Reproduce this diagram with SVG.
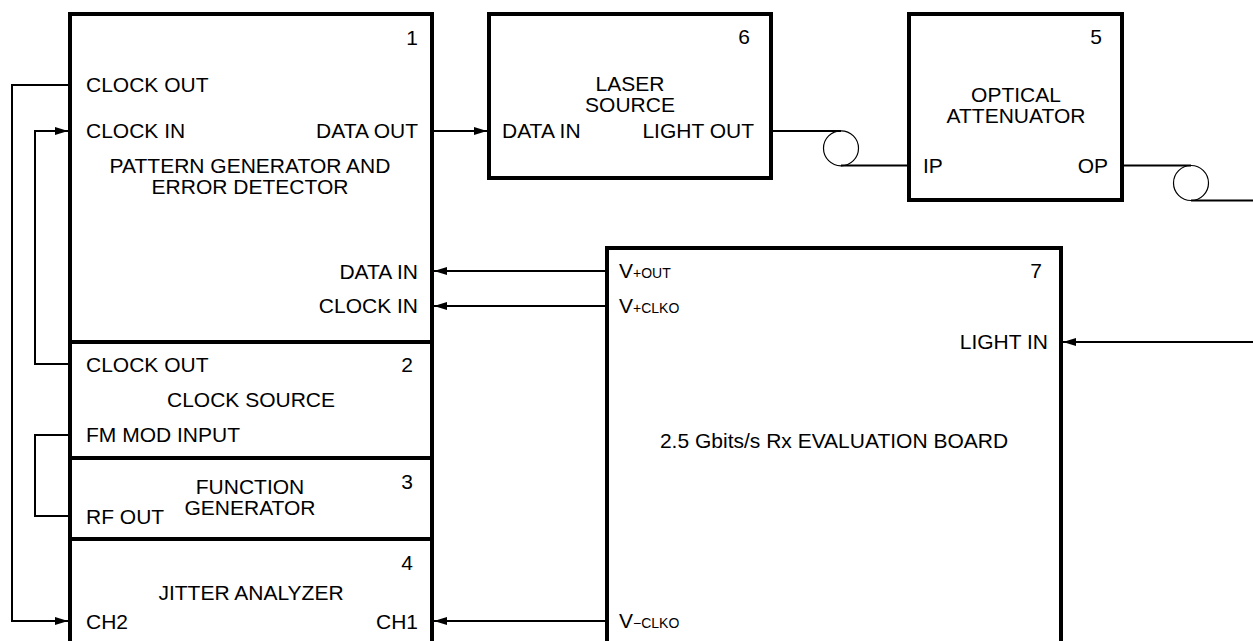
<svg xmlns="http://www.w3.org/2000/svg" width="1253" height="641" viewBox="0 0 1253 641">
<defs>
<style>
.box{fill:#fff;stroke:#000;stroke-width:4}
.ln{fill:none;stroke:#000;stroke-width:2}
.fb{fill:none;stroke:#000;stroke-width:1.2}
.t{font-family:"Liberation Sans",Arial,sans-serif;font-size:21px;fill:#000}
.m{text-anchor:middle}
.e{text-anchor:end}
.s{font-size:14px}
</style>
<marker id="ah" markerUnits="userSpaceOnUse" markerWidth="14" markerHeight="10" refX="13" refY="4" orient="auto">
<path d="M0,0 L13,4 L0,8 Z" fill="#000"/>
</marker>
</defs>
<g id="connectors">
<polyline class="ln" points="70,85 12,85 12,621 68,621" marker-end="url(#ah)"/>
<polyline class="ln" points="70,364 35,364 35,131 68,131" marker-end="url(#ah)"/>
<polyline class="ln" points="70,435 35,435 35,516 70,516"/>
<line class="ln" x1="432" y1="131" x2="487" y2="131" marker-end="url(#ah)"/>
<line class="ln" x1="606" y1="271" x2="434" y2="271" marker-end="url(#ah)"/>
<line class="ln" x1="606" y1="306" x2="434" y2="306" marker-end="url(#ah)"/>
<line class="ln" x1="606" y1="621" x2="434" y2="621" marker-end="url(#ah)"/>
<line class="ln" x1="1253" y1="342" x2="1063" y2="342" marker-end="url(#ah)"/>
<polyline class="ln" points="771,131 841,131"/>
<circle class="fb" cx="841" cy="148.3" r="17.5"/>
<polyline class="ln" points="841,165.5 909,165.5"/>
<polyline class="ln" points="1122,165.5 1191,165.5"/>
<circle class="fb" cx="1191" cy="183" r="17.5"/>
<polyline class="ln" points="1191,200.5 1253,200.5"/>
</g>
<g id="node1">
<rect class="box" x="70" y="14" width="362" height="328"/>
<text class="t e" x="418" y="45">1</text>
<text class="t" x="86" y="92">CLOCK OUT</text>
<text class="t" x="86" y="138">CLOCK IN</text>
<text class="t e" x="418" y="138">DATA OUT</text>
<text class="t m" x="250" y="173">PATTERN GENERATOR AND</text>
<text class="t m" x="250" y="194">ERROR DETECTOR</text>
<text class="t e" x="418" y="279">DATA IN</text>
<text class="t e" x="418" y="313">CLOCK IN</text>
</g>
<g id="node2">
<rect class="box" x="70" y="342" width="362" height="116"/>
<text class="t" x="86" y="372">CLOCK OUT</text>
<text class="t e" x="413" y="372">2</text>
<text class="t m" x="251" y="407">CLOCK SOURCE</text>
<text class="t" x="86" y="442">FM MOD INPUT</text>
</g>
<g id="node3">
<rect class="box" x="70" y="458" width="362" height="81"/>
<text class="t e" x="413" y="489">3</text>
<text class="t m" x="250" y="494">FUNCTION</text>
<text class="t m" x="250" y="515">GENERATOR</text>
<text class="t" x="86" y="524">RF OUT</text>
</g>
<g id="node4">
<rect class="box" x="70" y="539" width="362" height="110"/>
<text class="t e" x="413" y="570">4</text>
<text class="t m" x="251" y="600">JITTER ANALYZER</text>
<text class="t" x="86" y="629">CH2</text>
<text class="t e" x="418" y="629">CH1</text>
</g>
<g id="node6">
<rect class="box" x="489" y="14" width="282" height="164"/>
<text class="t e" x="750" y="44">6</text>
<text class="t m" x="630" y="91">LASER</text>
<text class="t m" x="630" y="112">SOURCE</text>
<text class="t" x="502" y="138">DATA IN</text>
<text class="t e" x="754" y="138">LIGHT OUT</text>
</g>
<g id="node5">
<rect class="box" x="909" y="14" width="213" height="186"/>
<text class="t e" x="1102" y="44">5</text>
<text class="t m" x="1016" y="102">OPTICAL</text>
<text class="t m" x="1016" y="123">ATTENUATOR</text>
<text class="t" x="923" y="173">IP</text>
<text class="t e" x="1108" y="173">OP</text>
</g>
<g id="node7">
<rect class="box" x="607" y="248" width="454" height="401"/>
<text class="t e" x="1042" y="278">7</text>
<text class="t" x="619" y="278">V<tspan class="s">+OUT</tspan></text>
<text class="t" x="619" y="313">V<tspan class="s">+CLKO</tspan></text>
<text class="t" x="619" y="628">V<tspan class="s">−CLKO</tspan></text>
<text class="t e" x="1048" y="349">LIGHT IN</text>
<text class="t m" x="834" y="448">2.5 Gbits/s Rx EVALUATION BOARD</text>
</g>
</svg>
